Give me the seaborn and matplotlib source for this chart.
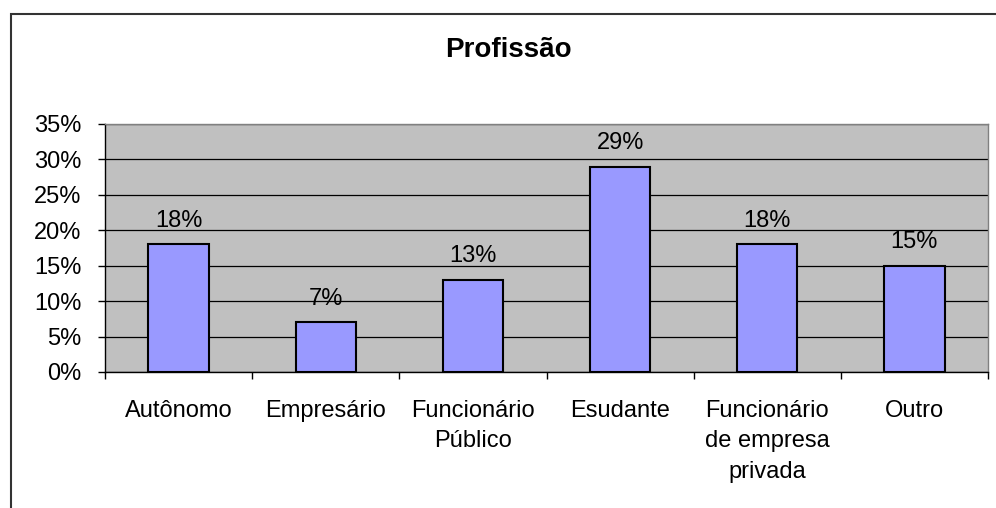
import matplotlib
matplotlib.use("Agg")
import pandas as pd
import matplotlib.pyplot as plt
import seaborn as sns
from matplotlib.patches import Rectangle
from matplotlib.ticker import FixedLocator

# ------------------------------------------------------------
# Data
# ------------------------------------------------------------
categories = ["Autônomo", "Empresário", "Funcionário\nPúblico", "Esudante",
              "Funcionário\nde empresa\nprivada", "Outro"]
values = [18, 7, 13, 29, 18, 15]
y_ticks = [0, 5, 10, 15, 20, 25, 30, 35]

df = pd.DataFrame({"categoria": categories, "valor": values})

# ------------------------------------------------------------
# Plot
# ------------------------------------------------------------
sns.set_style("white")
plt.rcParams["font.family"] = ["Liberation Sans", "DejaVu Sans"]
plt.rcParams["text.color"] = "black"
plt.rcParams["xtick.color"] = "black"
plt.rcParams["ytick.color"] = "black"

fig = plt.figure(figsize=(9.96, 5.08), dpi=100)
W, H = 996, 508
ax = fig.add_axes([105 / W, 136 / H, (988 - 105) / W, 248 / H])
ax.set_facecolor("#C0C0C0")

sns.barplot(
    data=df,
    x="categoria",
    y="valor",
    color="#9999FF",
    saturation=1,
    width=0.41,
    edgecolor="black",
    linewidth=1.5,
    ax=ax,
    zorder=3,
)

ax.set_ylim(0, 35)
ax.set_xlim(-0.5, len(categories) - 0.5)
ax.set_yticks(y_ticks)
ax.set_yticklabels([f"{v}%" for v in y_ticks])
ax.yaxis.grid(True, color="black", linewidth=0.9, zorder=0)
ax.set_axisbelow(True)

# category labels centered, tick marks at boundaries
ax.tick_params(axis="x", which="major", length=0, pad=20, labelsize=17,
               labelcolor="black")
ax.xaxis.set_minor_locator(FixedLocator([i - 0.5 for i in range(len(categories) + 1)]))
ax.tick_params(axis="x", which="minor", bottom=True, length=5, width=1,
               color="black", direction="out")
ax.tick_params(axis="y", length=5, width=1, color="black", direction="out",
               left=True, pad=12, labelsize=17, labelcolor="black")
for lbl in ax.get_xticklabels():
    lbl.set_linespacing(1.5)

ax.set_xlabel("")
ax.set_ylabel("")

for side in ["left", "bottom"]:
    ax.spines[side].set_color("black")
    ax.spines[side].set_linewidth(1)
for side in ["top", "right"]:
    ax.spines[side].set_visible(True)
    ax.spines[side].set_color("#808080")
    ax.spines[side].set_linewidth(1)

for cont in ax.containers:
    ax.bar_label(cont, labels=[f"{v}%" for v in values], padding=9,
                 fontsize=17, color="black")

fig.text(508 / W, 1 - 50 / H, "Profissão", ha="center", va="center",
         fontsize=20, fontweight="bold", color="black")

# outer chart border
fig.patches.append(Rectangle((11 / W, -0.1), 1.2, 1 - 14 / H + 0.1,
                             transform=fig.transFigure, fill=False,
                             edgecolor="#333333", linewidth=1.5))

fig.savefig("out.png", dpi=100)
